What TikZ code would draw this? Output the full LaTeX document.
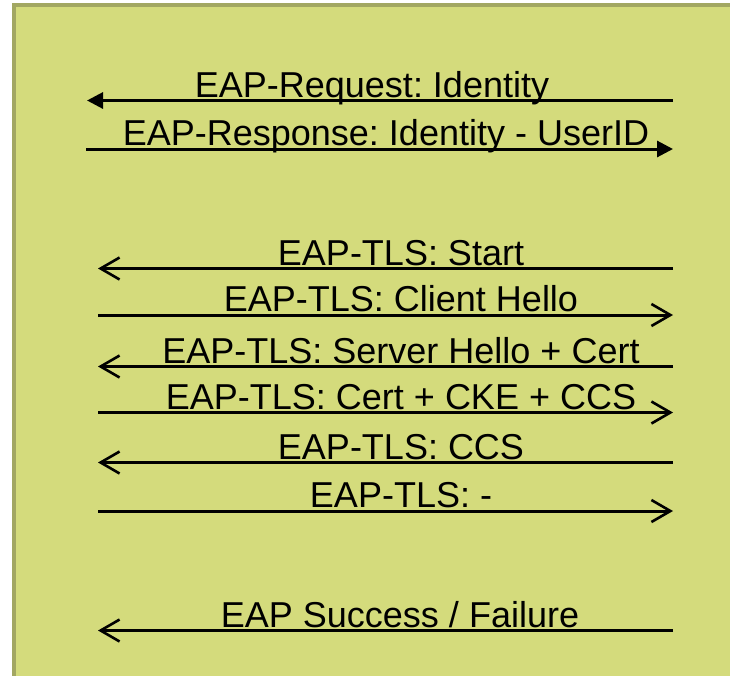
\documentclass[tikz,border=0pt]{standalone}
\usepackage{fontspec}
\setmainfont{Liberation Sans}
\usetikzlibrary{arrows.meta}
\definecolor{boxfill}{RGB}{212,219,124}
\definecolor{boxline}{RGB}{162,167,98}
\tikzset{
	msg/.style={line width=3pt},
	solidhead/.style={-{Triangle[length=16pt,width=16pt]}},
	openhead/.style={-{Straight Barb[length=19pt,width=22pt,line width=2.6pt]}},
	lbl/.style={anchor=base, inner sep=0pt, font=\fontsize{36}{40}\selectfont}
}
\frenchspacing
\begin{document}
\begin{tikzpicture}[x=1pt,y=-1pt]
	\useasboundingbox (0,0) rectangle (730,675);
	
	% background box
	\fill[boxfill] (14,5) rectangle (740,690);
	\draw[boxline, line width=3.5pt] (14,690) -- (14,5) -- (740,5);
	
	% messages
	\foreach \i/\y/\xa/\xb/\hd/\cx/\txt in {
		1/100.5/673/87/solidhead/372/{EAP-Request: Identity},
		2/149/86/673/solidhead/386/{EAP-Response: Identity - UserID},
		3/268.5/673/98/openhead/401/{EAP-TLS: Start},
		4/315/98/673/openhead/401/{EAP-TLS: Client Hello},
		5/366.5/673/98/openhead/401/{EAP-TLS: Server Hello + Cert},
		6/412.5/98/673/openhead/401/{EAP-TLS: Cert + CKE + CCS},
		7/462.5/673/98/openhead/401/{EAP-TLS: CCS},
		8/511/98/673/openhead/401/{EAP-TLS: -},
		9/630.5/673/98/openhead/400/{EAP Success / Failure}}{
		\coordinate (from\i) at (\xa,\y);
		\coordinate (to\i) at (\xb,\y);
		\draw[msg,\hd] (from\i) -- (to\i);
		\node[lbl] (label\i) at (\cx,\y-3.5) {\txt};
	}
\end{tikzpicture}
\end{document}
